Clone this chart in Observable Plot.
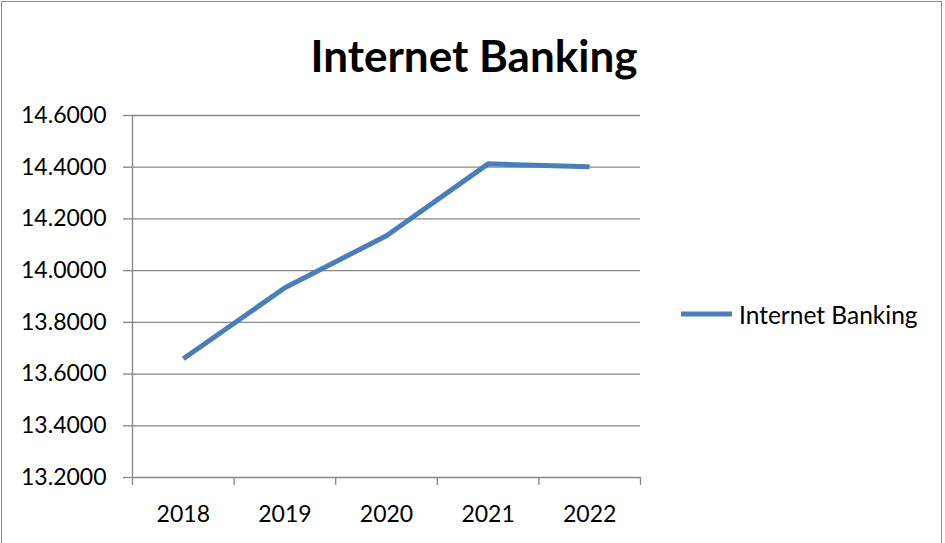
<!DOCTYPE html>
<html>
<head>
<meta charset="utf-8">
<script src="https://cdn.jsdelivr.net/npm/d3@7"></script>
<script src="https://cdn.jsdelivr.net/npm/@observablehq/plot@0.6"></script>
<style>
  html, body { margin: 0; padding: 0; background: #fff; overflow: hidden; }
  #wrap { position: relative; width: 945px; height: 543px; font-family: Lato, "Open Sans", sans-serif; }
  #frame { position: absolute; left: 1px; top: 1px; width: 941px; height: 600px; border: 1px solid #8a8a8a; box-sizing: border-box; }
  #plot { position: absolute; left: 0; top: 0; }
  #overlay { position: absolute; left: 0; top: 0; }
</style>
</head>
<body>
<div id="wrap">
  <div id="frame"></div>
  <div id="plot"></div>
  <svg id="overlay" width="945" height="543"></svg>
</div>
<script>
const title = "Internet Banking";
const seriesName = "Internet Banking";
const years = ["2018", "2019", "2020", "2021", "2022"];
const values = [13.659, 13.934, 14.135, 14.413, 14.402];
const yTicks = [13.2, 13.4, 13.6, 13.8, 14.0, 14.2, 14.4, 14.6];

const lineColor = "#4a7ebb";
const gridColor = "#878787";

const data = years.map((y, i) => ({year: y, idx: i + 0.5, value: values[i]}));
const boundaries = d3.range(years.length + 1);
const centers = years.map((_, i) => i + 0.5);

const chart = Plot.plot({
  width: 945,
  height: 543,
  marginLeft: 132,
  marginRight: 305,
  marginTop: 115,
  marginBottom: 66,
  style: {fontFamily: "Lato, 'Open Sans', sans-serif", background: "transparent", color: "#000"},
  x: {type: "linear", domain: [0, years.length]},
  y: {domain: [13.2, 14.6]},
  marks: [
    Plot.gridY(yTicks, {stroke: gridColor, strokeOpacity: 1, strokeWidth: 1.3}),
    Plot.ruleX([0], {y1: 13.2, y2: 14.6, stroke: gridColor, strokeWidth: 1.3}),
    Plot.axisY(yTicks, {tickSize: 9, tickPadding: 17, stroke: gridColor, strokeWidth: 1.3, fontSize: 23, fill: "#000", tickFormat: d3.format(".4f"), label: null}),
    Plot.axisX(boundaries, {tickSize: 8, stroke: gridColor, strokeWidth: 1.3, tickFormat: () => "", label: null}),
    Plot.axisX(centers, {tickSize: 0, tickPadding: 28, fontSize: 23, fill: "#000", tickFormat: d => years[Math.round(d - 0.5)], label: null}),
    Plot.line(data, {x: "idx", y: "value", stroke: lineColor, strokeWidth: 5, strokeLinejoin: "miter", strokeLinecap: "butt"})
  ]
});
document.getElementById("plot").appendChild(chart);

const ov = d3.select("#overlay");
ov.append("text")
  .attr("x", 474).attr("y", 72)
  .attr("text-anchor", "middle")
  .attr("font-family", "Lato, 'Open Sans', sans-serif")
  .attr("font-weight", "bold")
  .attr("font-size", 44)
  .text(title);
ov.append("line")
  .attr("x1", 681).attr("x2", 732).attr("y1", 314).attr("y2", 314)
  .attr("stroke", lineColor).attr("stroke-width", 5);
ov.append("text")
  .attr("x", 739).attr("y", 324)
  .attr("font-family", "Lato, 'Open Sans', sans-serif")
  .attr("font-size", 24.5)
  .text(seriesName);
</script>
</body>
</html>
